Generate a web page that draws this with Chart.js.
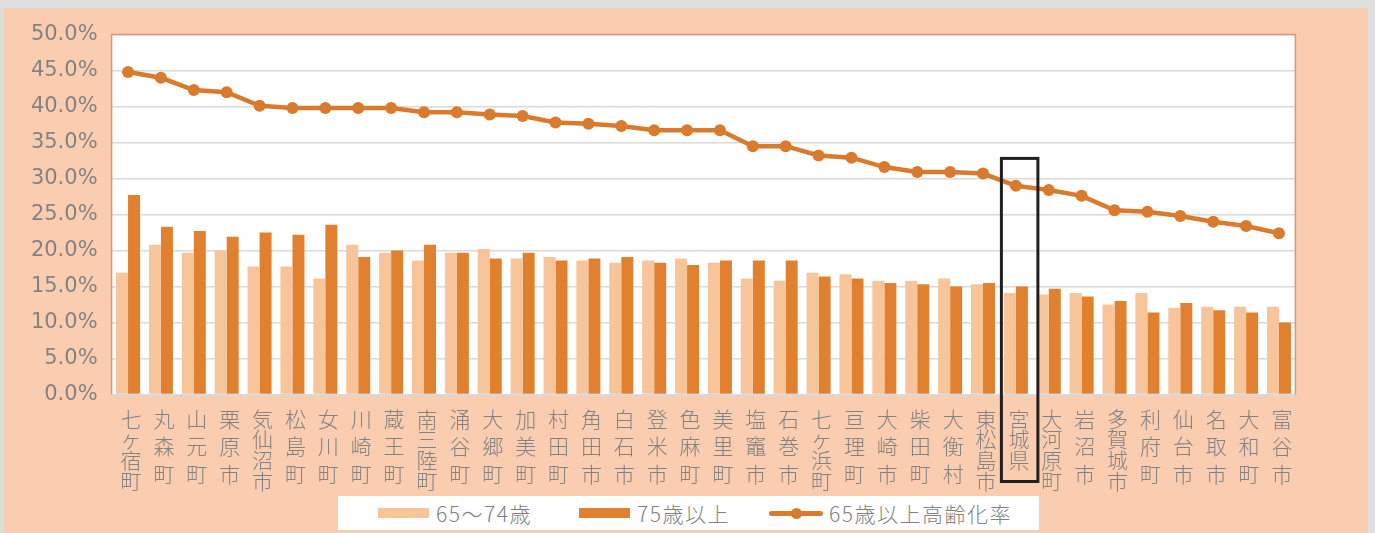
<!DOCTYPE html>
<html lang="ja">
<head>
<meta charset="UTF-8">
<title>高齢化率</title>
<script src="https://cdn.jsdelivr.net/npm/chart.js"></script>
<style>
  * { box-sizing: border-box; margin: 0; padding: 0; }
  html, body { width: 1375px; height: 533px; overflow: hidden; background: #dedede; }
  .panel { position: absolute; left: 4px; top: 8px; width: 1364px; height: 525px; background: #fbcdb0; }
  #chart { display: block; }
  .legend {
    position: absolute; left: 334px; top: 488px; width: 701px; height: 34px;
    background: #ffffff; color: #808080;
    font-family: "Noto Sans CJK JP", sans-serif; font-size: 21px; font-weight: 300; letter-spacing: 1.5px;
  }
  .legend .item { position: absolute; top: 0; height: 34px; display: flex; align-items: center; white-space: nowrap; }
  .legend .box { width: 51px; height: 10px; margin-right: 7px; }
  .legend .line { position: relative; width: 54px; height: 5px; border-radius: 3px; margin-right: 6px; }
  .legend .line i { position: absolute; left: 22px; top: -3px; width: 11px; height: 11px; border-radius: 50%; }
</style>
</head>
<body>
<div class="panel">
  <canvas id="chart" width="1364" height="525"></canvas>
  <div class="legend" id="legend"></div>
</div>
<script>
  // 市町村別 高齢化率 (%)
  const categories = [
    '七ヶ宿町', '丸森町', '山元町', '栗原市', '気仙沼市', '松島町', '女川町', '川崎町', '蔵王町',
    '南三陸町', '涌谷町', '大郷町', '加美町', '村田町', '角田市', '白石市', '登米市', '色麻町',
    '美里町', '塩竈市', '石巻市', '七ヶ浜町', '亘理町', '大崎市', '柴田町', '大衡村', '東松島市',
    '宮城県', '大河原町', '岩沼市', '多賀城市', '利府町', '仙台市', '名取市', '大和町', '富谷市'
  ];
  const age65to74 = [
    16.9, 20.8, 19.7, 20.0, 17.8, 17.8, 16.1, 20.8, 19.7,
    18.6, 19.7, 20.2, 18.9, 19.1, 18.6, 18.3, 18.6, 18.9,
    18.3, 16.1, 15.8, 16.9, 16.7, 15.8, 15.8, 16.1, 15.3,
    14.1, 13.9, 14.1, 12.5, 14.1, 12.0, 12.2, 12.2, 12.2
  ];
  const age75plus = [
    27.7, 23.3, 22.7, 21.9, 22.5, 22.2, 23.6, 19.1, 20.0,
    20.8, 19.7, 18.9, 19.7, 18.6, 18.9, 19.1, 18.3, 18.0,
    18.6, 18.6, 18.6, 16.4, 16.1, 15.5, 15.3, 15.0, 15.5,
    15.0, 14.7, 13.6, 13.0, 11.4, 12.7, 11.7, 11.4, 10.0
  ];
  const agingRate = [
    44.8, 44.0, 42.3, 42.0, 40.1, 39.8, 39.8, 39.8, 39.8,
    39.2, 39.2, 38.9, 38.7, 37.8, 37.6, 37.3, 36.7, 36.7,
    36.7, 34.5, 34.5, 33.2, 32.9, 31.6, 30.9, 30.9, 30.7,
    29.0, 28.4, 27.6, 25.6, 25.4, 24.8, 24.0, 23.4, 22.4
  ];
  const seriesNames = ['65～74歳', '75歳以上', '65歳以上高齢化率'];
  const yMin = 0, yMax = 50, yStep = 5;
  const highlight = '宮城県';

  const lightColor = '#f7c599';
  const darkColor = '#e1812f';
  const lineColor = '#d97a2c';
  const textColor = '#828282';

  // 縦書き風: 1文字ずつ改行、字間は空行で調整
  function stackLabel(name) {
    const gap = (name.length >= 4 || name === highlight) ? 3 : 4;
    const lines = [];
    Array.from(name).forEach((ch, i) => {
      if (i > 0) for (let k = 1; k < gap; k++) lines.push('');
      lines.push(ch);
    });
    return lines;
  }

  const plotFrame = {
    id: 'plotFrame',
    beforeDraw(chart) {
      const a = chart.chartArea, ctx = chart.ctx;
      ctx.save();
      ctx.fillStyle = '#ffffff';
      ctx.fillRect(a.left, a.top, a.right - a.left, a.bottom - a.top);
      ctx.restore();
    },
    beforeDatasetsDraw(chart) {
      const a = chart.chartArea, ctx = chart.ctx;
      ctx.save();
      ctx.strokeStyle = '#de9479';
      ctx.lineWidth = 1.5;
      ctx.beginPath();
      ctx.moveTo(a.left, a.bottom);
      ctx.lineTo(a.left, a.top);
      ctx.lineTo(a.right, a.top);
      ctx.lineTo(a.right, a.bottom);
      ctx.stroke();
      ctx.restore();
    },
    afterDraw(chart) {
      const x = chart.scales.x, y = chart.scales.y, ctx = chart.ctx;
      const cx = x.getPixelForValue(categories.indexOf(highlight));
      const top = y.getPixelForValue(32.8);
      const bottom = chart.chartArea.bottom + 87;
      ctx.save();
      ctx.strokeStyle = '#231f20';
      ctx.lineWidth = 3;
      ctx.strokeRect(cx - 14.5, top, 36.5, bottom - top);
      ctx.restore();
    }
  };

  new Chart(document.getElementById('chart'), {
    data: {
      labels: categories.map(stackLabel),
      datasets: [
        {
          type: 'line', label: seriesNames[2], data: agingRate, order: 0,
          borderColor: lineColor, backgroundColor: lineColor, borderWidth: 4.5,
          pointRadius: 6, pointBackgroundColor: lineColor, pointBorderWidth: 0, tension: 0
        },
        {
          type: 'bar', label: seriesNames[0], data: age65to74, order: 1,
          backgroundColor: lightColor, categoryPercentage: 0.73, barPercentage: 1
        },
        {
          type: 'bar', label: seriesNames[1], data: age75plus, order: 2,
          backgroundColor: darkColor, categoryPercentage: 0.73, barPercentage: 1
        }
      ]
    },
    options: {
      responsive: false,
      animation: false,
      layout: { padding: { top: 24.5, right: 72.6, left: 0, bottom: 0 } },
      plugins: { legend: { display: false }, tooltip: { enabled: false } },
      scales: {
        x: {
          grid: { display: false, drawTicks: false },
          border: { display: true, color: '#d9d9d9', width: 2 },
          ticks: {
            color: textColor, autoSkip: false, maxRotation: 0, minRotation: 0,
            padding: 21, labelOffset: 3,
            font: { family: '"Noto Sans CJK JP", sans-serif', size: 21, weight: 300, lineHeight: '6.86px' }
          },
          afterFit(scale) { scale.height = 138.5; }
        },
        y: {
          min: yMin, max: yMax,
          grid: { color: '#d9d9d9', lineWidth: 1.5, drawTicks: false },
          border: { display: false },
          ticks: {
            stepSize: yStep, color: textColor, padding: 14,
            font: { family: '"DejaVu Sans", sans-serif', size: 21 },
            callback: v => v.toFixed(1) + '%'
          },
          afterFit(scale) { scale.width = 107.6; }
        }
      }
    },
    plugins: [plotFrame]
  });

  // 凡例
  const legend = document.getElementById('legend');
  const legendItems = [
    { left: 40, html: '<span class="box" style="background:' + lightColor + '"></span>' + seriesNames[0] },
    { left: 241, html: '<span class="box" style="background:' + darkColor + '"></span>' + seriesNames[1] },
    { left: 431, html: '<span class="line" style="background:' + lineColor + '"><i style="background:' + lineColor + '"></i></span>' + seriesNames[2] }
  ];
  legendItems.forEach(it => {
    const d = document.createElement('div');
    d.className = 'item';
    d.style.left = it.left + 'px';
    d.innerHTML = it.html;
    legend.appendChild(d);
  });
</script>
</body>
</html>
